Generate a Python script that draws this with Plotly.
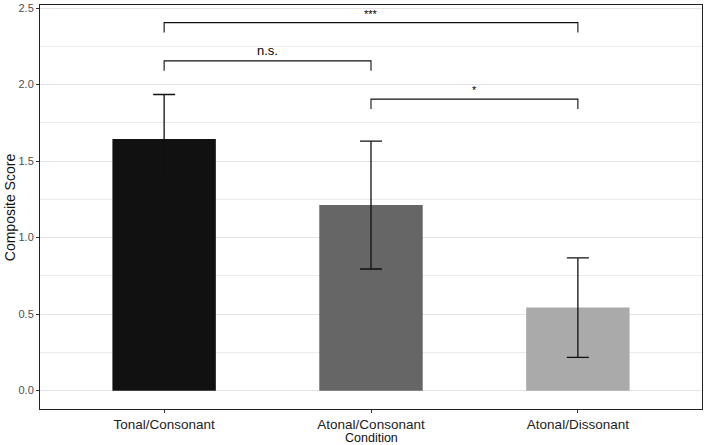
import plotly.graph_objects as go

conditions = ["Tonal/Consonant", "Atonal/Consonant", "Atonal/Dissonant"]
means = [1.645, 1.213, 0.543]
errors = [0.290, 0.418, 0.325]
bar_colors = ["#111111", "#666666", "#aaaaaa"]

# significance comparisons: (group1, group2, bracket height, label)
comp_g1 = ["Tonal/Consonant", "Tonal/Consonant", "Atonal/Consonant"]
comp_g2 = ["Atonal/Dissonant", "Atonal/Consonant", "Atonal/Dissonant"]
comp_y = [2.405, 2.155, 1.905]
comp_labels = ["***", "n.s.", "*"]
tip_length = 0.065

y_ticks = [0.0, 0.5, 1.0, 1.5, 2.0, 2.5]

FONT = "Liberation Sans, Arial, sans-serif"

fig = go.Figure()
fig.add_trace(go.Bar(
    x=conditions, y=means, width=0.5,
    marker=dict(color=bar_colors, line=dict(width=0)),
    error_y=dict(type="data", array=errors, visible=True,
                 color="#111111", thickness=1.3, width=11),
    showlegend=False,
))

for g1, g2, yv, lab in zip(comp_g1, comp_g2, comp_y, comp_labels):
    fig.add_trace(go.Scatter(
        x=[g1, g1, g2, g2], y=[yv - tip_length, yv, yv, yv - tip_length],
        mode="lines", line=dict(color="#111111", width=1.1),
        showlegend=False, hoverinfo="skip",
    ))
    i1, i2 = conditions.index(g1), conditions.index(g2)
    fig.add_annotation(
        x=(i1 + i2) / 2, y=yv, text=lab, showarrow=False,
        yanchor="bottom", yshift=1,
        font=dict(family=FONT, size=13 if lab == "n.s." else 11, color="#000000"),
    )

# axis titles placed as annotations
fig.add_annotation(
    text="Condition", xref="paper", yref="paper", x=0.5, y=-0.073,
    xanchor="center", yanchor="middle", showarrow=False,
    font=dict(family=FONT, size=12.5, color="#111111"),
)
fig.add_annotation(
    text="Composite Score", xref="paper", yref="paper", x=-0.045, y=0.5,
    xanchor="center", yanchor="middle", textangle=-90, showarrow=False,
    font=dict(family=FONT, size=14, color="#111111"),
)

fig.update_layout(
    width=707, height=445,
    margin=dict(l=40, r=5, t=5, b=36),
    paper_bgcolor="white", plot_bgcolor="white",
    font=dict(family=FONT, color="#111111"),
    bargap=0.5,
)
fig.update_xaxes(
    range=[-0.6, 2.6], showgrid=False,
    showline=True, linecolor="#222222", linewidth=1, mirror=True,
    ticks="outside", ticklen=3, tickcolor="#333333",
    tickfont=dict(family=FONT, size=13.5, color="#222222"),
    automargin=False, zeroline=False,
)
fig.update_yaxes(
    range=[-0.12, 2.52], tickvals=y_ticks, ticktext=[f"{v:.1f}" for v in y_ticks],
    showgrid=True, gridcolor="#e3e3e3", gridwidth=1,
    minor=dict(dtick=0.25, tick0=0, showgrid=True, gridcolor="#ebebeb", gridwidth=1, ticks=""),
    showline=True, linecolor="#222222", linewidth=1, mirror=True,
    ticks="outside", ticklen=3, tickcolor="#333333",
    tickfont=dict(family=FONT, size=11, color="#4d4d4d"),
    automargin=False, zeroline=False,
)

fig.write_html("out.html")
